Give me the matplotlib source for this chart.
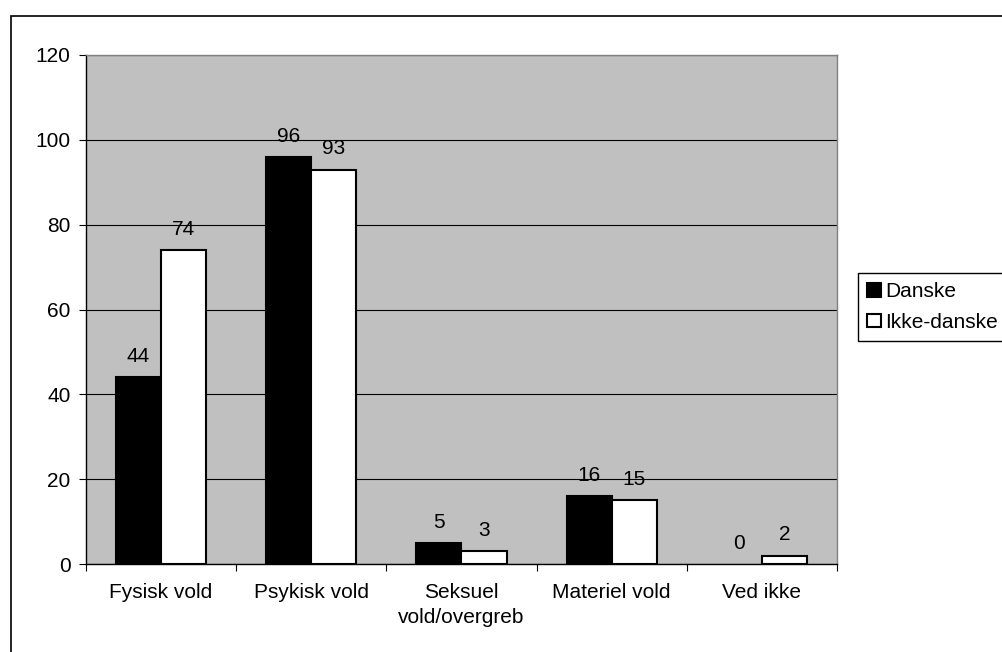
import matplotlib.pyplot as plt
from matplotlib.patches import Rectangle, Patch
import numpy as np

plt.rcParams['font.family'] = ['Liberation Sans', 'DejaVu Sans']

# Data
categories = ['Fysisk vold', 'Psykisk vold', 'Seksuel\nvold/overgreb', 'Materiel vold', 'Ved ikke']
danske = [44, 96, 5, 16, 0]
ikke_danske = [74, 93, 3, 15, 2]
series_names = ['Danske', 'Ikke-danske']
yticks = [0, 20, 40, 60, 80, 100, 120]

W, H = 1003, 652
FS = 15

fig = plt.figure(figsize=(W / 100, H / 100), dpi=100)
fig.patch.set_facecolor('white')

# outer chart border (runs off the right and bottom edge)
fig.add_artist(Rectangle((11 / W, -0.2), 1.2, 1.2 - 16 / H,
                         transform=fig.transFigure, fill=False,
                         edgecolor='black', linewidth=1.2))

ax = fig.add_axes([86 / W, 1 - 564 / H, (837 - 86) / W, (564 - 55) / H])
ax.set_facecolor('#C0C0C0')

x = np.arange(len(categories))
bw = 0.3
b1 = ax.bar(x - bw / 2, danske, bw, color='black', edgecolor='black', linewidth=1.5, zorder=3)
b2 = ax.bar(x + bw / 2, ikke_danske, bw, color='white', edgecolor='black', linewidth=1.5, zorder=3)

for bars, vals in ((b1, danske), (b2, ikke_danske)):
    for rect, v in zip(bars, vals):
        if v == 0:
            rect.set_linewidth(0)  # Excel draws nothing for a zero bar
        ax.annotate(str(v), (rect.get_x() + rect.get_width() / 2, v),
                    xytext=(0, 8), textcoords='offset points',
                    ha='center', va='bottom', fontsize=FS, color='black')

ax.set_xlim(-0.5, len(categories) - 0.5)
ax.set_ylim(0, 120)
ax.set_yticks(yticks)
ax.set_yticklabels([str(t) for t in yticks], fontsize=FS)
ax.yaxis.grid(True, color='black', linewidth=0.8, zorder=0)
ax.set_axisbelow(True)

ax.set_xticks(x)
ax.set_xticklabels(categories, fontsize=FS, linespacing=1.35)
ax.set_xticks(np.arange(-0.5, len(categories)), minor=True)
ax.tick_params(axis='x', which='major', length=0, pad=14)
ax.tick_params(axis='x', which='minor', length=5, width=0.8, direction='out')
ax.tick_params(axis='y', length=5, width=0.8, direction='out', pad=6)

for s in ('top', 'right'):
    ax.spines[s].set_color('#808080')
    ax.spines[s].set_linewidth(1.0)
for s in ('left', 'bottom'):
    ax.spines[s].set_color('black')
    ax.spines[s].set_linewidth(1.0)

handles = [Patch(facecolor='black', edgecolor='black', linewidth=1.5),
           Patch(facecolor='white', edgecolor='black', linewidth=1.5)]
leg = fig.legend(handles, series_names, loc='upper left',
                 bbox_to_anchor=(858 / W, 1 - 273 / H), borderaxespad=0,
                 fontsize=FS, frameon=True, fancybox=False, framealpha=1,
                 edgecolor='black', handlelength=0.65, handleheight=0.65,
                 handletextpad=0.2, borderpad=0.45, labelspacing=0.55)
leg.get_frame().set_linewidth(1.0)

fig.savefig('out.png', dpi=100)
